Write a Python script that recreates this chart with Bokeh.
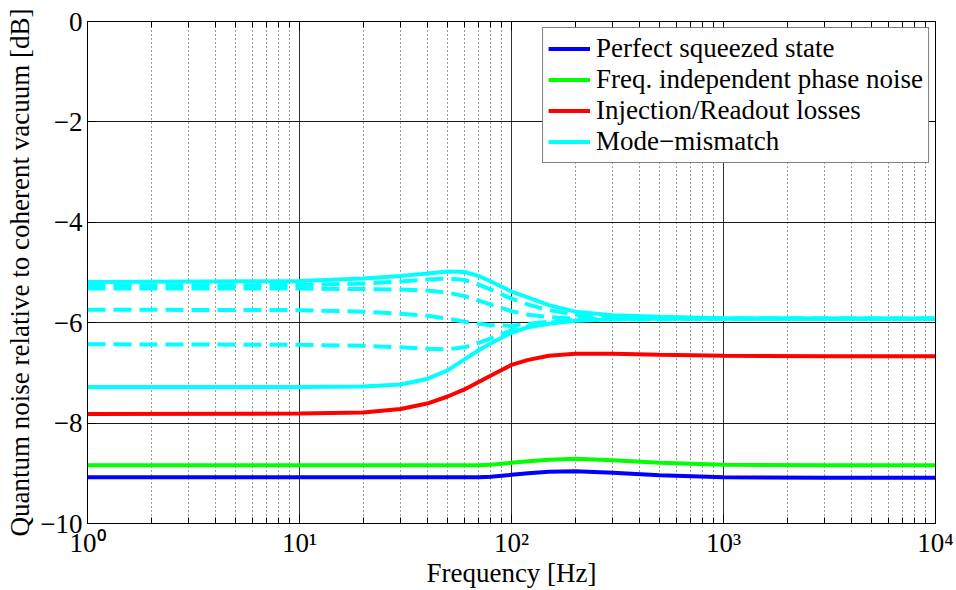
from bokeh.plotting import figure
from bokeh.models import (Range1d, FixedTicker, LogAxis, LinearAxis, Legend, LegendItem)
from bokeh.embed import file_html
from bokeh.resources import INLINE

# ---------------- data ----------------
freq = [1, 10, 20, 30, 40, 50, 60, 70, 80, 100, 120, 150, 200, 300, 500, 1000, 3000, 10000]

perfect = [-9.08, -9.08, -9.08, -9.08, -9.08, -9.08, -9.08, -9.08, -9.07, -9.03, -9.00, -8.97,
           -8.96, -8.99, -9.04, -9.08, -9.09, -9.09]
phase_noise = [-8.84, -8.84, -8.84, -8.84, -8.84, -8.84, -8.84, -8.84, -8.83, -8.79, -8.76, -8.73,
               -8.71, -8.74, -8.79, -8.83, -8.84, -8.84]
losses = [-7.82, -7.81, -7.79, -7.72, -7.61, -7.47, -7.33, -7.18, -7.05, -6.84, -6.74, -6.66,
          -6.62, -6.62, -6.64, -6.66, -6.67, -6.67]
mm_solid_upper = [-5.19, -5.17, -5.12, -5.07, -5.02, -4.98, -4.99, -5.07, -5.18, -5.38, -5.50, -5.65,
                  -5.78, -5.85, -5.88, -5.91, -5.92, -5.92]
mm_solid_lower = [-7.28, -7.28, -7.27, -7.23, -7.12, -6.95, -6.73, -6.55, -6.41, -6.20, -6.09, -6.02,
                  -5.96, -5.93, -5.92, -5.92, -5.92, -5.92]
mm_dash_a = [-5.26, -5.25, -5.22, -5.18, -5.14, -5.12, -5.15, -5.24, -5.34, -5.52, -5.64, -5.75,
             -5.84, -5.89, -5.91, -5.92, -5.92, -5.92]
mm_dash_b = [-5.32, -5.32, -5.33, -5.34, -5.36, -5.40, -5.47, -5.56, -5.64, -5.77, -5.84, -5.89,
             -5.92, -5.93, -5.93, -5.92, -5.92, -5.92]
mm_dash_c = [-5.74, -5.75, -5.78, -5.82, -5.86, -5.92, -5.98, -6.02, -6.05, -6.06, -6.02, -5.98,
             -5.95, -5.93, -5.93, -5.92, -5.92, -5.92]
mm_dash_d = [-6.43, -6.44, -6.46, -6.49, -6.52, -6.53, -6.49, -6.40, -6.31, -6.15, -6.07, -6.00,
             -5.95, -5.93, -5.93, -5.92, -5.92, -5.92]

legend_labels = ["Perfect squeezed state", "Freq. independent phase noise",
                 "Injection/Readout losses", "Mode\u2212mismatch"]

x_ticks = [1, 10, 100, 1000, 10000]
x_tick_labels = ["10\u2070", "10\u00b9", "10\u00b2", "10\u00b3", "10\u2074"]
x_minor = [m * d for d in [1, 10, 100, 1000] for m in range(2, 10)]
y_ticks = [-10, -8, -6, -4, -2, 0]
y_tick_labels = ["\u221210", "\u22128", "\u22126", "\u22124", "\u22122", "0"]

FONT = "Liberation Serif"

p = figure(width=956, height=590, x_axis_type="log", output_backend="svg",
           toolbar_location=None, x_range=Range1d(1, 10000), y_range=Range1d(-10, 0),
           min_border_left=87, min_border_right=21, min_border_top=21, min_border_bottom=66)
p.background_fill_color = "white"
p.border_fill_color = "white"
p.outline_line_color = "black"
p.outline_line_width = 1

xt = FixedTicker(ticks=x_ticks, minor_ticks=x_minor)
yt = FixedTicker(ticks=y_ticks, minor_ticks=[])

# axes
xa = p.xaxis[0]
xa.ticker = xt
xa.major_label_overrides = dict(zip(x_ticks, x_tick_labels))
ya = p.yaxis[0]
ya.ticker = yt
ya.major_label_overrides = dict(zip(y_ticks, y_tick_labels))

for ax in (xa, ya):
    ax.axis_line_color = "black"
    ax.major_tick_line_color = "black"
    ax.minor_tick_line_color = "black"
    ax.major_tick_in = 9
    ax.major_tick_out = 0
    ax.minor_tick_in = 6
    ax.minor_tick_out = 0
    ax.major_label_text_font = FONT
    ax.major_label_text_font_size = "27px"
    ax.major_label_text_color = "black"
    ax.axis_label_text_font = FONT
    ax.axis_label_text_font_style = "normal"
    ax.axis_label_text_color = "black"

xa.axis_label = "Frequency [Hz]"
xa.axis_label_text_font_size = "27px"
xa.major_label_standoff = 4
xa.axis_label_standoff = -3
ya.axis_label = "Quantum noise relative to coherent vacuum [dB]"
ya.axis_label_text_font_size = "27px"
ya.major_label_standoff = 5
ya.axis_label_standoff = 2

top = LogAxis(ticker=FixedTicker(ticks=x_ticks, minor_ticks=x_minor),
              major_label_text_font_size="1px", major_label_text_alpha=0,
              major_label_standoff=0)
right = LinearAxis(ticker=FixedTicker(ticks=y_ticks, minor_ticks=[]),
                   major_label_text_font_size="1px", major_label_text_alpha=0,
                   major_label_standoff=0)
for ax in (top, right):
    ax.major_tick_in = 9
    ax.major_tick_out = 0
    ax.minor_tick_in = 6
    ax.minor_tick_out = 0
    ax.axis_line_color = "black"
p.add_layout(top, "above")
p.add_layout(right, "right")

# grids
p.xgrid.ticker = xt
p.xgrid.grid_line_color = "black"
p.xgrid.grid_line_alpha = 0.8
p.xgrid.minor_grid_line_color = "black"
p.xgrid.minor_grid_line_dash = "1 3"
p.xgrid.minor_grid_line_alpha = 0.8
p.ygrid.ticker = yt
p.ygrid.grid_line_color = "black"
p.ygrid.grid_line_alpha = 0.9

LW = 4
r_blue = p.line(freq, perfect, line_color="#0000ff", line_width=LW)
r_green = p.line(freq, phase_noise, line_color="#00ff00", line_width=LW)
r_red = p.line(freq, losses, line_color="#ff0000", line_width=LW)
cy = "#00ffff"
for series in (mm_dash_a, mm_dash_b, mm_dash_c, mm_dash_d):
    p.line(freq, series, line_color=cy, line_width=LW, line_dash="18 8")
r_cyan = p.line(freq, mm_solid_upper, line_color=cy, line_width=LW)
p.line(freq, mm_solid_lower, line_color=cy, line_width=LW)

legend = Legend(items=[LegendItem(label=legend_labels[0], renderers=[r_blue]),
                       LegendItem(label=legend_labels[1], renderers=[r_green]),
                       LegendItem(label=legend_labels[2], renderers=[r_red]),
                       LegendItem(label=legend_labels[3], renderers=[r_cyan])],
                location="top_right")
legend.label_text_font = FONT
legend.label_text_font_size = "27px"
legend.label_text_color = "black"
legend.border_line_color = "black"
legend.border_line_width = 1
legend.background_fill_color = "white"
legend.background_fill_alpha = 1
legend.glyph_width = 42
legend.glyph_height = 27
legend.label_height = 27
legend.spacing = 0
legend.padding = 5
legend.margin = 6
legend.label_standoff = 6
p.add_layout(legend)

open("out.html", "w").write(file_html(p, INLINE))
